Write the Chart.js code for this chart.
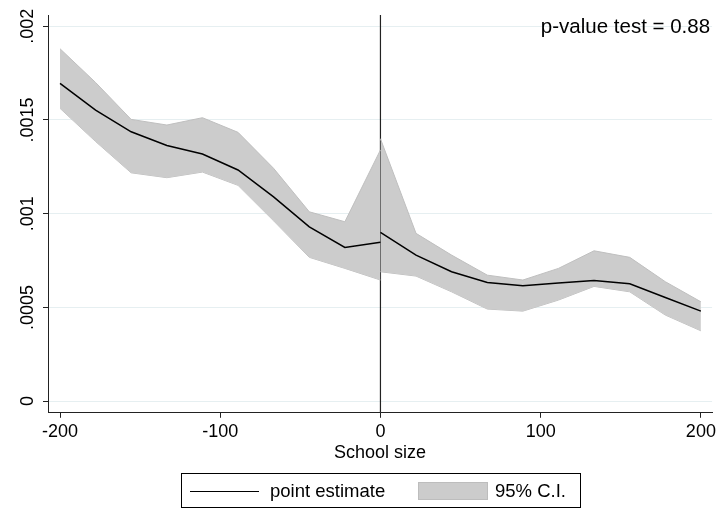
<!DOCTYPE html>
<html>
<head>
<meta charset="utf-8">
<script src="https://cdn.jsdelivr.net/npm/chart.js@4"></script>
<style>
  body { margin: 0; background: #fff; font-family: "Liberation Sans", Arial, sans-serif; }
  #wrap { position: relative; width: 719px; height: 508px; }
  #legend { position: absolute; left: 181px; top: 473px; width: 398px; height: 33px;
            border: 1px solid #000; box-sizing: content-box; font-size: 18.5px; color: #000; }
  #legend .line { position: absolute; left: 8px; top: 17px; width: 69px; height: 0; border-top: 1.5px solid #000; }
  #legend .swatch { position: absolute; left: 236px; top: 8px; width: 68px; height: 16px;
                    background: #cccccc; border: 1px solid #bdbdbd; }
  #legend span { position: absolute; top: 6px; white-space: nowrap; }
</style>
</head>
<body>
<div id="wrap">
  <canvas id="chart" width="719" height="508"></canvas>
  <div id="legend">
    <div class="line"></div><span style="left:88px">point estimate</span>
    <div class="swatch"></div><span style="left:313px">95% C.I.</span>
  </div>
</div>
<script>
// left of cutoff
const xLeft = [-200, -177.8, -155.6, -133.3, -111.1, -88.9, -66.7, -44.4, -22.2, 0];
const estLeft = [0.001695, 0.001553, 0.001437, 0.001364, 0.001318, 0.001233, 0.00109, 0.00093, 0.00082, 0.000847];
const upLeft = [0.00188, 0.0017, 0.001503, 0.001473, 0.001512, 0.001434, 0.001242, 0.00101, 0.000957, 0.00134];
const loLeft = [0.001562, 0.001385, 0.001218, 0.001192, 0.001222, 0.001151, 0.000962, 0.000767, 0.000708, 0.000646];

// right of cutoff
const xRight = [0, 22.2, 44.4, 66.7, 88.9, 111.1, 133.3, 155.6, 177.8, 200];
const estRight = [0.0009, 0.000779, 0.00069, 0.000633, 0.000615, 0.00063, 0.000644, 0.000626, 0.000553, 0.00048];
const upRight = [0.0014, 0.000895, 0.000779, 0.000672, 0.000646, 0.000708, 0.000802, 0.000767, 0.000637, 0.00053];
const loRight = [0.00069, 0.000667, 0.000583, 0.000491, 0.00048, 0.000539, 0.000612, 0.000583, 0.000459, 0.000375];

const xTicks = [-200, -100, 0, 100, 200];
const yTicks = [0, 0.0005, 0.001, 0.0015, 0.002];
const yTickLabels = ["0", ".0005", ".001", ".0015", ".002"];
const xTitle = "School size";
const note = "p-value test = 0.88";

const FONT = "'Liberation Sans', Arial, sans-serif";
const pts = (xs, ys) => xs.map((x, i) => ({ x, y: ys[i] }));

const lineStyle = { borderColor: "#000", borderWidth: 1.5, pointRadius: 0, showLine: true, fill: false, tension: 0 };
const bandStyle = { borderColor: "#bfbfbf", borderWidth: 1, backgroundColor: "#cccccc", pointRadius: 0, showLine: true, tension: 0 };

// cutoff line sits under the bands
const cutoffLine = {
  id: "cutoffLine",
  beforeDatasetsDraw(chart) {
    const { ctx, chartArea, scales } = chart;
    const x = scales.x.getPixelForValue(0);
    ctx.save();
    ctx.strokeStyle = "#222";
    ctx.lineWidth = 1.2;
    ctx.beginPath();
    ctx.moveTo(x, chartArea.top);
    ctx.lineTo(x, chartArea.bottom);
    ctx.stroke();
    ctx.restore();
  },
  afterDraw(chart) {
    const { ctx, chartArea } = chart;
    ctx.save();
    ctx.font = "20.5px " + FONT;
    ctx.fillStyle = "#000";
    ctx.textAlign = "right";
    ctx.textBaseline = "middle";
    ctx.fillText(note, chartArea.right - 2, 27);
    ctx.restore();
  }
};

new Chart(document.getElementById("chart"), {
  type: "scatter",
  data: {
    datasets: [
      { ...lineStyle, data: pts(xLeft, estLeft) },
      { ...lineStyle, data: pts(xRight, estRight) },
      { ...bandStyle, data: pts(xLeft, upLeft), fill: 3 },
      { ...bandStyle, data: pts(xLeft, loLeft), fill: false },
      { ...bandStyle, data: pts(xRight, upRight), fill: 5 },
      { ...bandStyle, data: pts(xRight, loRight), fill: false }
    ]
  },
  options: {
    responsive: false,
    animation: false,
    devicePixelRatio: 1,
    layout: { padding: { top: 15, right: 6, bottom: 44, left: 0 } },
    plugins: { legend: { display: false }, tooltip: { enabled: false } },
    scales: {
      x: {
        type: "linear",
        min: -207.5,
        max: 207,
        afterBuildTicks: (s) => { s.ticks = xTicks.map((v) => ({ value: v })); },
        ticks: { color: "#000", font: { family: FONT, size: 18 }, maxRotation: 0, padding: 3 },
        grid: { drawOnChartArea: false, drawTicks: true, tickLength: 5, tickColor: "#222" },
        border: { display: true, color: "#222", width: 1 },
        title: { display: true, text: xTitle, color: "#000", font: { family: FONT, size: 18 }, padding: { top: -3, bottom: 0 } }
      },
      y: {
        type: "linear",
        min: -0.0000624,
        max: 0.00206,
        afterBuildTicks: (s) => { s.ticks = yTicks.map((v) => ({ value: v })); },
        afterFit: (s) => { s.width = 48; },
        ticks: {
          color: "#000",
          font: { family: FONT, size: 18 },
          minRotation: 90,
          maxRotation: 90,
          crossAlign: "center",
          padding: -8,
          callback: (v) => { const i = yTicks.indexOf(v); return i >= 0 ? yTickLabels[i] : ""; }
        },
        grid: { color: "#e6eff1", lineWidth: 1, drawTicks: true, tickLength: 5, tickColor: "#222" },
        border: { display: true, color: "#222", width: 1 }
      }
    }
  },
  plugins: [cutoffLine]
});
</script>
</body>
</html>
